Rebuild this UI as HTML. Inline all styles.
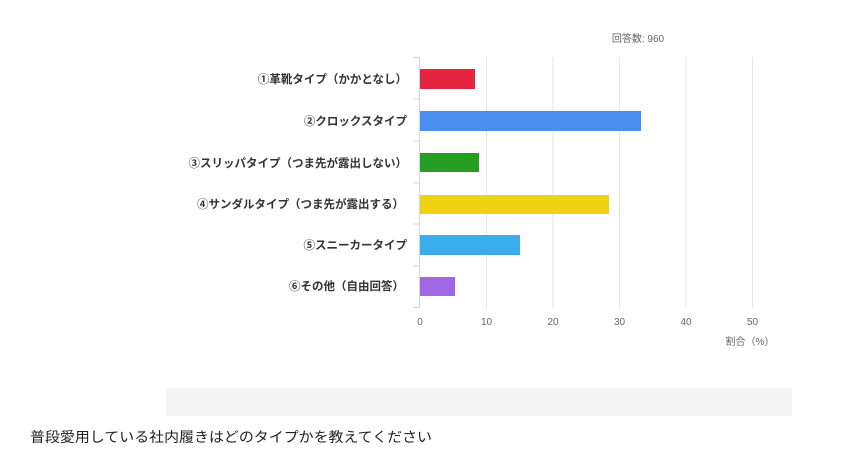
<!DOCTYPE html>
<html><head><meta charset="utf-8"><style>
body{margin:0;background:#fff;width:845px;height:453px;overflow:hidden;font-family:"Liberation Sans","Noto Sans CJK JP",sans-serif}
</style></head><body>
<svg width="845" height="453" xmlns="http://www.w3.org/2000/svg" style="position:absolute;left:0;top:0">
<g stroke="#e6e6e6" stroke-width="1">
<line x1="486.5" y1="57" x2="486.5" y2="308"/>
<line x1="553" y1="57" x2="553" y2="308"/>
<line x1="619.5" y1="57" x2="619.5" y2="308"/>
<line x1="686" y1="57" x2="686" y2="308"/>
<line x1="752.5" y1="57" x2="752.5" y2="308"/>
</g>
<g stroke="#ccd6eb" stroke-width="1">
<line x1="419.5" y1="57" x2="419.5" y2="308"/>
<line x1="413" y1="57.5" x2="419" y2="57.5"/>
<line x1="413" y1="99" x2="419" y2="99"/>
<line x1="413" y1="141" x2="419" y2="141"/>
<line x1="413" y1="183" x2="419" y2="183"/>
<line x1="413" y1="224" x2="419" y2="224"/>
<line x1="413" y1="266" x2="419" y2="266"/>
<line x1="413" y1="307.5" x2="419" y2="307.5"/>
</g>
<rect x="420" y="69" width="55" height="20" fill="#e52440"/>
<rect x="420" y="111" width="221" height="20" fill="#4a8ef0"/>
<rect x="420" y="153" width="59" height="19" fill="#259c22"/>
<rect x="420" y="195" width="189" height="19" fill="#efd312"/>
<rect x="420" y="235" width="100" height="20" fill="#3aaeed"/>
<rect x="420" y="277" width="35" height="19" fill="#a066e4"/>
<g font-size="11.5" font-weight="bold" fill="#333" text-anchor="end">
<text x="407" y="83">①革靴タイプ（かかとなし）</text>
<text x="407" y="125">②クロックスタイプ</text>
<text x="407" y="167">③スリッパタイプ（つま先が露出しない）</text>
<text x="404" y="208">④サンダルタイプ（つま先が露出する）</text>
<text x="407" y="249">⑤スニーカータイプ</text>
<text x="404" y="290">⑥その他（自由回答）</text>
</g>
<g font-size="10" fill="#666" text-anchor="middle">
<text x="420" y="325">0</text>
<text x="486.5" y="325">10</text>
<text x="553" y="325">20</text>
<text x="619.5" y="325">30</text>
<text x="686" y="325">40</text>
<text x="752.5" y="325">50</text>
<text x="750" y="345">割合（%）</text>
<text x="638" y="42">回答数: 960</text>
</g>
<rect x="166" y="388" width="626" height="28" fill="#f5f5f5"/>
<text x="30" y="442" font-size="14" fill="#222" textLength="402" lengthAdjust="spacingAndGlyphs">普段愛用している社内履きはどのタイプかを教えてください</text>
</svg>
</body></html>
